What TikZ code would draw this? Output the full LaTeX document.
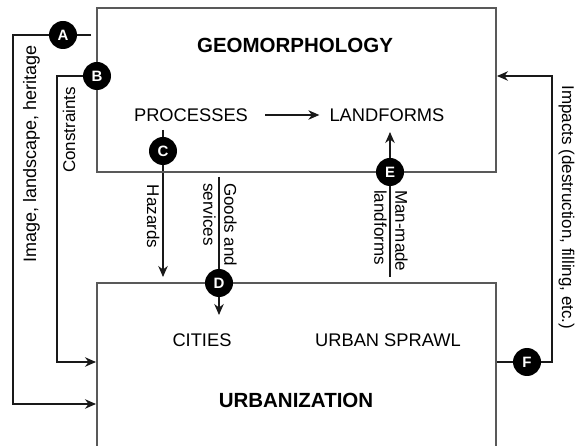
\documentclass[tikz,border=0pt]{standalone}
\usepackage{fontspec}
\setmainfont{Liberation Sans}
\usetikzlibrary{arrows.meta,backgrounds}
\begin{document}
\begin{tikzpicture}[x=1pt,y=-1pt,
  box/.style={draw=black!65, line width=1.2pt},
  conn/.style={draw=black!90, line width=1.3pt},
  arr/.style={conn, -{Stealth[length=11pt,width=9.5pt,inset=3.5pt]}},
  badge/.style={circle, fill=black, text=white, font=\fontsize{15}{15}\selectfont\bfseries, minimum size=28pt, inner sep=0pt},
  term/.style={font=\fontsize{18.3}{18.3}\selectfont, inner sep=0pt},
  heading/.style={font=\fontsize{20.5}{20.5}\selectfont\bfseries, inner sep=0pt},
  lab/.style={font=\fontsize{17}{21}\selectfont, inner sep=0pt},
  labbig/.style={font=\fontsize{18}{21}\selectfont, inner sep=0pt},
  labtwo/.style={font=\fontsize{17}{21}\selectfont, inner sep=0pt, align=left},
]
\useasboundingbox (0,0) rectangle (584,446);

% boxes
\node[box, minimum width=399pt, minimum height=164pt, inner sep=0pt] (geo) at (296.5,90) {};
\coordinate (ubl) at (97,446);
\coordinate (utl) at (97,283);
\coordinate (utr) at (496,283);
\coordinate (ubr) at (496,446);
\draw[box] (ubl) -- (utl) -- (utr) -- (ubr);

% texts
\node[heading] (geot) at (295,45) {GEOMORPHOLOGY};
\node[term] (proc) at (191,115) {PROCESSES};
\node[term] (land) at (387,115) {LANDFORMS};
\node[term] (cities) at (202,340) {CITIES};
\node[term] (sprawl) at (388,340) {URBAN SPRAWL};
\node[heading] (urbt) at (296,400) {URBANIZATION};

% badges
\node[badge] (A) at (63,35) {A};
\node[badge] (B) at (97,76) {B};
\node[badge] (C) at (163,151) {C};
\node[badge] (D) at (219,283) {D};
\node[badge] (E) at (390,172) {E};
\node[badge] (F) at (527,362) {F};

% connector coordinates
\coordinate (a0) at (91,35);
\coordinate (a1) at (13,35);
\coordinate (a2) at (13,404);
\coordinate (a3) at (96,404);
\coordinate (b1) at (57,76);
\coordinate (b2) at (57,362);
\coordinate (b3) at (96,362);
\coordinate (c0) at (163,130);
\coordinate (c1) at (163,277);
\coordinate (d0) at (219,177);
\coordinate (d1) at (219,315);
\coordinate (e0) at (390,277);
\coordinate (e1) at (390,132);
\coordinate (f0) at (497,362);
\coordinate (f1) at (552,362);
\coordinate (f2) at (552,76);
\coordinate (f3) at (497,76);

\begin{scope}[on background layer]
\draw[arr] (a0) -- (A.center) -- (a1) -- (a2) -- (a3);
\draw[arr] (B.center) -- (b1) -- (b2) -- (b3);
\draw[arr] (c0) -- (C.center) -- (c1);
\draw[arr] (d0) -- (D.center) -- (d1);
\draw[arr] (e0) -- (E.center) -- (e1);
\draw[arr] (f0) -- (F.center) -- (f1) -- (f2) -- (f3);
\end{scope}
\draw[arr] ([xshift=17pt]proc.east) -- ([xshift=-10pt]land.west);

% labels
\node[labbig, rotate=90, anchor=base] (limg) at (36,154) {Image, landscape, heritage};
\node[lab, rotate=90, anchor=base] (lcon) at (75,130) {Constraints};
\node[lab, rotate=-90, anchor=base] (lhaz) at (147,216.5) {Hazards};
\node[lab, rotate=-90, anchor=base] (limp) at (562,207.5) {Impacts (destruction, filling, etc.)};
\node[labtwo, rotate=-90, anchor=west] (lgoods) at (220,183) {Goods and\\services};
\node[labtwo, rotate=-90, anchor=west] (lman) at (391,190) {Man-made\\landforms};
\end{tikzpicture}
\end{document}
